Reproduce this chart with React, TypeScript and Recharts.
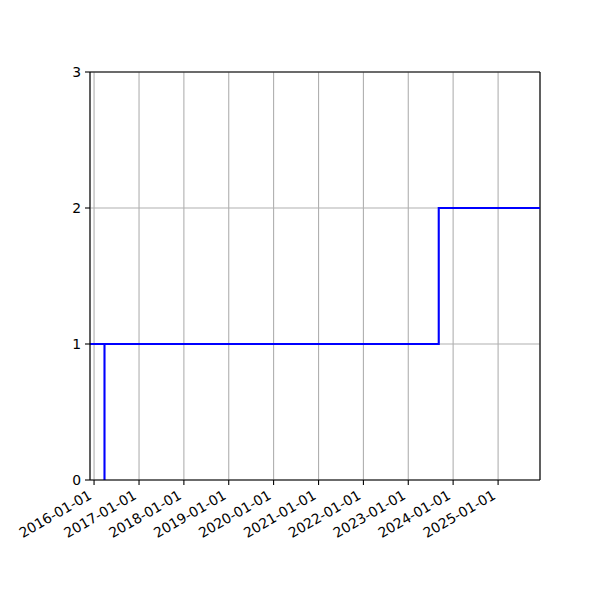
import { LineChart, Line, XAxis, YAxis, CartesianGrid, ReferenceLine } from 'recharts';

const stepDates = ['2015-11-29', '2016-03-26', '2016-03-26', '2023-09-06', '2025-12-08'];
const stepValues = [1, 0, 1, 2, 2];
const tickYears = [2016, 2017, 2018, 2019, 2020, 2021, 2022, 2023, 2024, 2025];
const yTicks = [0, 1, 2, 3];

const toTime = (d: string) => new Date(d + 'T00:00:00Z').getTime();

const xMin = toTime('2015-11-29');
const xMax = toTime('2025-12-08');
const xTicks = tickYears.map(y => Date.UTC(y, 0, 1));

const chartData = stepDates.map((d, i) => ({ t: toTime(d), value: stepValues[i] }));

const FONT = '"DejaVu Sans", sans-serif';

function fmtDate(t: number) {
  return new Date(t).toISOString().slice(0, 10);
}

function DateTick(props: any) {
  const { x, y, payload } = props;
  const tx = x - 1.5;
  const ty = y + 13;
  return (
    <text
      x={tx}
      y={ty}
      textAnchor="end"
      fontSize={13.9}
      fontFamily={FONT}
      fill="#000"
      transform={`rotate(-30, ${tx}, ${ty})`}
    >
      {fmtDate(payload.value)}
    </text>
  );
}

export default function App() {
  return (
    <div style={{ position: 'absolute', left: 0, top: 0, width: 600, height: 600, background: '#fff' }}>
      <LineChart width={600} height={600} data={chartData} margin={{ top: 72, right: 60, left: 0, bottom: 0 }}>
        <CartesianGrid stroke="#b0b0b0" strokeWidth={1.1} />
        <XAxis
          dataKey="t"
          type="number"
          domain={[xMin, xMax]}
          allowDataOverflow
          ticks={xTicks}
          interval={0}
          height={120}
          tick={<DateTick />}
          tickSize={5}
          tickMargin={0}
          tickLine={{ stroke: '#000', strokeWidth: 1.1 }}
          axisLine={{ stroke: '#000', strokeWidth: 1.1 }}
        />
        <YAxis
          type="number"
          domain={[0, 3]}
          ticks={yTicks}
          interval={0}
          width={90}
          tickSize={5}
          tickMargin={4}
          tick={{ fill: '#000', fontSize: 13.9, fontFamily: FONT }}
          tickLine={{ stroke: '#000', strokeWidth: 1.1 }}
          axisLine={{ stroke: '#000', strokeWidth: 1.1 }}
        />
        <ReferenceLine y={3} stroke="#000" strokeWidth={1.1} />
        <ReferenceLine x={xMax} stroke="#000" strokeWidth={1.1} />
        <Line
          type="stepAfter"
          dataKey="value"
          stroke="#0000ff"
          strokeWidth={2.1}
          dot={false}
          activeDot={false}
          isAnimationActive={false}
        />
      </LineChart>
    </div>
  );
}
